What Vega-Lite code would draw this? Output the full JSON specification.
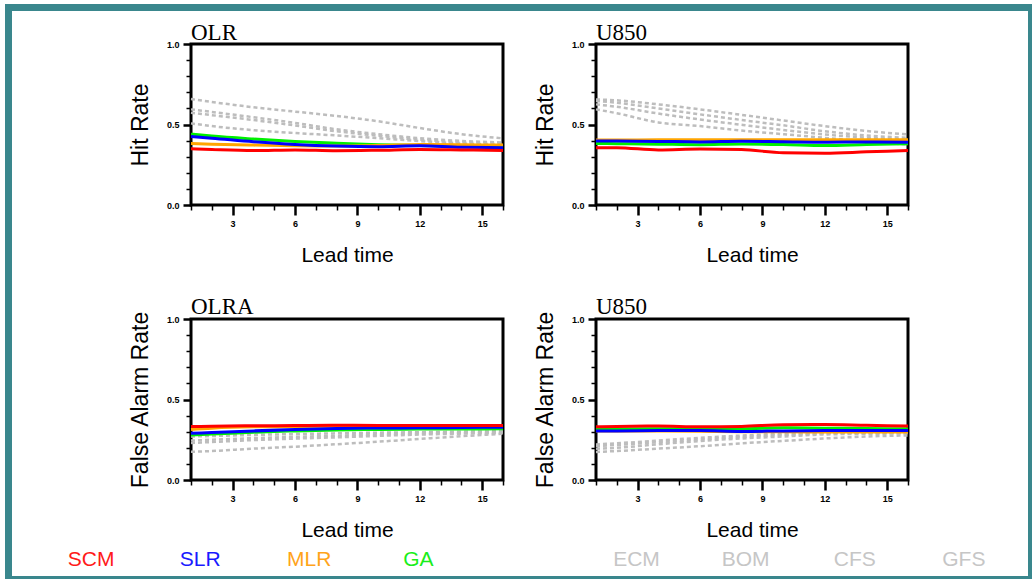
{
  "$schema": "https://vega.github.io/schema/vega-lite/v6.json",
  "padding": {"left": 5, "top": 4, "right": 0, "bottom": 0},
  "background": "white",
  "spacing": 0,
  "datasets": {
    "rates": [
      {"p":"p1","s":"ECM","lead":1,"rate":0.658},{"p":"p1","s":"ECM","lead":2,"rate":0.64},{"p":"p1","s":"ECM","lead":4,"rate":0.607},{"p":"p1","s":"ECM","lead":6,"rate":0.58},{"p":"p1","s":"ECM","lead":8,"rate":0.553},{"p":"p1","s":"ECM","lead":10,"rate":0.52},{"p":"p1","s":"ECM","lead":12,"rate":0.478},{"p":"p1","s":"ECM","lead":14,"rate":0.44},{"p":"p1","s":"ECM","lead":16,"rate":0.414},
      {"p":"p1","s":"BOM","lead":1,"rate":0.594},{"p":"p1","s":"BOM","lead":2,"rate":0.578},{"p":"p1","s":"BOM","lead":4,"rate":0.545},{"p":"p1","s":"BOM","lead":6,"rate":0.51},{"p":"p1","s":"BOM","lead":8,"rate":0.47},{"p":"p1","s":"BOM","lead":10,"rate":0.44},{"p":"p1","s":"BOM","lead":12,"rate":0.415},{"p":"p1","s":"BOM","lead":14,"rate":0.398},{"p":"p1","s":"BOM","lead":16,"rate":0.388},
      {"p":"p1","s":"CFS","lead":1,"rate":0.573},{"p":"p1","s":"CFS","lead":2,"rate":0.558},{"p":"p1","s":"CFS","lead":4,"rate":0.528},{"p":"p1","s":"CFS","lead":6,"rate":0.494},{"p":"p1","s":"CFS","lead":8,"rate":0.458},{"p":"p1","s":"CFS","lead":10,"rate":0.43},{"p":"p1","s":"CFS","lead":12,"rate":0.405},{"p":"p1","s":"CFS","lead":14,"rate":0.39},{"p":"p1","s":"CFS","lead":16,"rate":0.38},
      {"p":"p1","s":"GFS","lead":1,"rate":0.507},{"p":"p1","s":"GFS","lead":2,"rate":0.49},{"p":"p1","s":"GFS","lead":4,"rate":0.465},{"p":"p1","s":"GFS","lead":6,"rate":0.447},{"p":"p1","s":"GFS","lead":8,"rate":0.432},{"p":"p1","s":"GFS","lead":10,"rate":0.415},{"p":"p1","s":"GFS","lead":12,"rate":0.397},{"p":"p1","s":"GFS","lead":14,"rate":0.382},{"p":"p1","s":"GFS","lead":16,"rate":0.372},
      {"p":"p1","s":"GA","lead":1,"rate":0.44},{"p":"p1","s":"GA","lead":2,"rate":0.428},{"p":"p1","s":"GA","lead":4,"rate":0.41},{"p":"p1","s":"GA","lead":6,"rate":0.395},{"p":"p1","s":"GA","lead":8,"rate":0.384},{"p":"p1","s":"GA","lead":10,"rate":0.375},{"p":"p1","s":"GA","lead":12,"rate":0.37},{"p":"p1","s":"GA","lead":14,"rate":0.366},{"p":"p1","s":"GA","lead":16,"rate":0.362},
      {"p":"p1","s":"MLR","lead":1,"rate":0.382},{"p":"p1","s":"MLR","lead":2,"rate":0.378},{"p":"p1","s":"MLR","lead":4,"rate":0.372},{"p":"p1","s":"MLR","lead":6,"rate":0.368},{"p":"p1","s":"MLR","lead":8,"rate":0.367},{"p":"p1","s":"MLR","lead":10,"rate":0.37},{"p":"p1","s":"MLR","lead":12,"rate":0.376},{"p":"p1","s":"MLR","lead":14,"rate":0.374},{"p":"p1","s":"MLR","lead":16,"rate":0.372},
      {"p":"p1","s":"SLR","lead":1,"rate":0.425},{"p":"p1","s":"SLR","lead":2,"rate":0.415},{"p":"p1","s":"SLR","lead":4,"rate":0.393},{"p":"p1","s":"SLR","lead":6,"rate":0.376},{"p":"p1","s":"SLR","lead":8,"rate":0.366},{"p":"p1","s":"SLR","lead":10,"rate":0.362},{"p":"p1","s":"SLR","lead":12,"rate":0.368},{"p":"p1","s":"SLR","lead":14,"rate":0.358},{"p":"p1","s":"SLR","lead":16,"rate":0.356},
      {"p":"p1","s":"SCM","lead":1,"rate":0.35},{"p":"p1","s":"SCM","lead":2,"rate":0.345},{"p":"p1","s":"SCM","lead":4,"rate":0.338},{"p":"p1","s":"SCM","lead":6,"rate":0.342},{"p":"p1","s":"SCM","lead":8,"rate":0.337},{"p":"p1","s":"SCM","lead":10,"rate":0.34},{"p":"p1","s":"SCM","lead":12,"rate":0.345},{"p":"p1","s":"SCM","lead":14,"rate":0.342},{"p":"p1","s":"SCM","lead":16,"rate":0.338},

      {"p":"p2","s":"ECM","lead":1,"rate":0.656},{"p":"p2","s":"ECM","lead":2,"rate":0.65},{"p":"p2","s":"ECM","lead":4,"rate":0.625},{"p":"p2","s":"ECM","lead":6,"rate":0.594},{"p":"p2","s":"ECM","lead":8,"rate":0.56},{"p":"p2","s":"ECM","lead":10,"rate":0.525},{"p":"p2","s":"ECM","lead":12,"rate":0.49},{"p":"p2","s":"ECM","lead":14,"rate":0.46},{"p":"p2","s":"ECM","lead":16,"rate":0.438},
      {"p":"p2","s":"BOM","lead":1,"rate":0.646},{"p":"p2","s":"BOM","lead":2,"rate":0.635},{"p":"p2","s":"BOM","lead":4,"rate":0.6},{"p":"p2","s":"BOM","lead":6,"rate":0.563},{"p":"p2","s":"BOM","lead":8,"rate":0.528},{"p":"p2","s":"BOM","lead":10,"rate":0.495},{"p":"p2","s":"BOM","lead":12,"rate":0.458},{"p":"p2","s":"BOM","lead":14,"rate":0.432},{"p":"p2","s":"BOM","lead":16,"rate":0.417},
      {"p":"p2","s":"CFS","lead":1,"rate":0.625},{"p":"p2","s":"CFS","lead":2,"rate":0.61},{"p":"p2","s":"CFS","lead":4,"rate":0.568},{"p":"p2","s":"CFS","lead":6,"rate":0.531},{"p":"p2","s":"CFS","lead":8,"rate":0.498},{"p":"p2","s":"CFS","lead":10,"rate":0.466},{"p":"p2","s":"CFS","lead":12,"rate":0.438},{"p":"p2","s":"CFS","lead":14,"rate":0.418},{"p":"p2","s":"CFS","lead":16,"rate":0.406},
      {"p":"p2","s":"GFS","lead":1,"rate":0.594},{"p":"p2","s":"GFS","lead":2,"rate":0.57},{"p":"p2","s":"GFS","lead":4,"rate":0.513},{"p":"p2","s":"GFS","lead":6,"rate":0.49},{"p":"p2","s":"GFS","lead":8,"rate":0.462},{"p":"p2","s":"GFS","lead":10,"rate":0.44},{"p":"p2","s":"GFS","lead":12,"rate":0.417},{"p":"p2","s":"GFS","lead":14,"rate":0.395},{"p":"p2","s":"GFS","lead":16,"rate":0.375},
      {"p":"p2","s":"GA","lead":1,"rate":0.382},{"p":"p2","s":"GA","lead":2,"rate":0.381},{"p":"p2","s":"GA","lead":4,"rate":0.378},{"p":"p2","s":"GA","lead":6,"rate":0.375},{"p":"p2","s":"GA","lead":8,"rate":0.379},{"p":"p2","s":"GA","lead":10,"rate":0.376},{"p":"p2","s":"GA","lead":12,"rate":0.37},{"p":"p2","s":"GA","lead":14,"rate":0.376},{"p":"p2","s":"GA","lead":16,"rate":0.381},
      {"p":"p2","s":"MLR","lead":1,"rate":0.404},{"p":"p2","s":"MLR","lead":2,"rate":0.404},{"p":"p2","s":"MLR","lead":4,"rate":0.405},{"p":"p2","s":"MLR","lead":6,"rate":0.405},{"p":"p2","s":"MLR","lead":8,"rate":0.406},{"p":"p2","s":"MLR","lead":10,"rate":0.406},{"p":"p2","s":"MLR","lead":12,"rate":0.406},{"p":"p2","s":"MLR","lead":14,"rate":0.406},{"p":"p2","s":"MLR","lead":16,"rate":0.406},
      {"p":"p2","s":"SLR","lead":1,"rate":0.398},{"p":"p2","s":"SLR","lead":2,"rate":0.397},{"p":"p2","s":"SLR","lead":4,"rate":0.395},{"p":"p2","s":"SLR","lead":6,"rate":0.392},{"p":"p2","s":"SLR","lead":8,"rate":0.396},{"p":"p2","s":"SLR","lead":10,"rate":0.393},{"p":"p2","s":"SLR","lead":12,"rate":0.39},{"p":"p2","s":"SLR","lead":14,"rate":0.392},{"p":"p2","s":"SLR","lead":16,"rate":0.39},
      {"p":"p2","s":"SCM","lead":1,"rate":0.356},{"p":"p2","s":"SCM","lead":2,"rate":0.356},{"p":"p2","s":"SCM","lead":4,"rate":0.342},{"p":"p2","s":"SCM","lead":6,"rate":0.348},{"p":"p2","s":"SCM","lead":8,"rate":0.344},{"p":"p2","s":"SCM","lead":10,"rate":0.325},{"p":"p2","s":"SCM","lead":12,"rate":0.322},{"p":"p2","s":"SCM","lead":14,"rate":0.33},{"p":"p2","s":"SCM","lead":16,"rate":0.338},

      {"p":"p3","s":"ECM","lead":1,"rate":0.27},{"p":"p3","s":"ECM","lead":2,"rate":0.273},{"p":"p3","s":"ECM","lead":4,"rate":0.28},{"p":"p3","s":"ECM","lead":6,"rate":0.285},{"p":"p3","s":"ECM","lead":8,"rate":0.29},{"p":"p3","s":"ECM","lead":10,"rate":0.294},{"p":"p3","s":"ECM","lead":12,"rate":0.297},{"p":"p3","s":"ECM","lead":14,"rate":0.3},{"p":"p3","s":"ECM","lead":16,"rate":0.303},
      {"p":"p3","s":"BOM","lead":1,"rate":0.245},{"p":"p3","s":"BOM","lead":2,"rate":0.25},{"p":"p3","s":"BOM","lead":4,"rate":0.26},{"p":"p3","s":"BOM","lead":6,"rate":0.268},{"p":"p3","s":"BOM","lead":8,"rate":0.275},{"p":"p3","s":"BOM","lead":10,"rate":0.283},{"p":"p3","s":"BOM","lead":12,"rate":0.29},{"p":"p3","s":"BOM","lead":14,"rate":0.294},{"p":"p3","s":"BOM","lead":16,"rate":0.298},
      {"p":"p3","s":"CFS","lead":1,"rate":0.23},{"p":"p3","s":"CFS","lead":2,"rate":0.236},{"p":"p3","s":"CFS","lead":4,"rate":0.248},{"p":"p3","s":"CFS","lead":6,"rate":0.257},{"p":"p3","s":"CFS","lead":8,"rate":0.265},{"p":"p3","s":"CFS","lead":10,"rate":0.274},{"p":"p3","s":"CFS","lead":12,"rate":0.282},{"p":"p3","s":"CFS","lead":14,"rate":0.288},{"p":"p3","s":"CFS","lead":16,"rate":0.293},
      {"p":"p3","s":"GFS","lead":1,"rate":0.175},{"p":"p3","s":"GFS","lead":2,"rate":0.18},{"p":"p3","s":"GFS","lead":4,"rate":0.195},{"p":"p3","s":"GFS","lead":6,"rate":0.207},{"p":"p3","s":"GFS","lead":8,"rate":0.222},{"p":"p3","s":"GFS","lead":10,"rate":0.238},{"p":"p3","s":"GFS","lead":12,"rate":0.255},{"p":"p3","s":"GFS","lead":14,"rate":0.272},{"p":"p3","s":"GFS","lead":16,"rate":0.287},
      {"p":"p3","s":"GA","lead":1,"rate":0.28},{"p":"p3","s":"GA","lead":2,"rate":0.285},{"p":"p3","s":"GA","lead":4,"rate":0.297},{"p":"p3","s":"GA","lead":6,"rate":0.305},{"p":"p3","s":"GA","lead":8,"rate":0.311},{"p":"p3","s":"GA","lead":10,"rate":0.314},{"p":"p3","s":"GA","lead":12,"rate":0.316},{"p":"p3","s":"GA","lead":14,"rate":0.317},{"p":"p3","s":"GA","lead":16,"rate":0.318},
      {"p":"p3","s":"MLR","lead":1,"rate":0.314},{"p":"p3","s":"MLR","lead":2,"rate":0.322},{"p":"p3","s":"MLR","lead":4,"rate":0.33},{"p":"p3","s":"MLR","lead":6,"rate":0.332},{"p":"p3","s":"MLR","lead":8,"rate":0.334},{"p":"p3","s":"MLR","lead":10,"rate":0.334},{"p":"p3","s":"MLR","lead":12,"rate":0.333},{"p":"p3","s":"MLR","lead":14,"rate":0.333},{"p":"p3","s":"MLR","lead":16,"rate":0.333},
      {"p":"p3","s":"SLR","lead":1,"rate":0.29},{"p":"p3","s":"SLR","lead":2,"rate":0.295},{"p":"p3","s":"SLR","lead":4,"rate":0.305},{"p":"p3","s":"SLR","lead":6,"rate":0.314},{"p":"p3","s":"SLR","lead":8,"rate":0.32},{"p":"p3","s":"SLR","lead":10,"rate":0.323},{"p":"p3","s":"SLR","lead":12,"rate":0.324},{"p":"p3","s":"SLR","lead":14,"rate":0.326},{"p":"p3","s":"SLR","lead":16,"rate":0.328},
      {"p":"p3","s":"SCM","lead":1,"rate":0.332},{"p":"p3","s":"SCM","lead":2,"rate":0.334},{"p":"p3","s":"SCM","lead":4,"rate":0.337},{"p":"p3","s":"SCM","lead":6,"rate":0.338},{"p":"p3","s":"SCM","lead":8,"rate":0.34},{"p":"p3","s":"SCM","lead":10,"rate":0.339},{"p":"p3","s":"SCM","lead":12,"rate":0.338},{"p":"p3","s":"SCM","lead":14,"rate":0.338},{"p":"p3","s":"SCM","lead":16,"rate":0.338},

      {"p":"p4","s":"ECM","lead":1,"rate":0.221},{"p":"p4","s":"ECM","lead":2,"rate":0.228},{"p":"p4","s":"ECM","lead":4,"rate":0.245},{"p":"p4","s":"ECM","lead":6,"rate":0.262},{"p":"p4","s":"ECM","lead":8,"rate":0.276},{"p":"p4","s":"ECM","lead":10,"rate":0.287},{"p":"p4","s":"ECM","lead":12,"rate":0.293},{"p":"p4","s":"ECM","lead":14,"rate":0.296},{"p":"p4","s":"ECM","lead":16,"rate":0.298},
      {"p":"p4","s":"BOM","lead":1,"rate":0.211},{"p":"p4","s":"BOM","lead":2,"rate":0.218},{"p":"p4","s":"BOM","lead":4,"rate":0.235},{"p":"p4","s":"BOM","lead":6,"rate":0.252},{"p":"p4","s":"BOM","lead":8,"rate":0.267},{"p":"p4","s":"BOM","lead":10,"rate":0.28},{"p":"p4","s":"BOM","lead":12,"rate":0.289},{"p":"p4","s":"BOM","lead":14,"rate":0.292},{"p":"p4","s":"BOM","lead":16,"rate":0.293},
      {"p":"p4","s":"CFS","lead":1,"rate":0.194},{"p":"p4","s":"CFS","lead":2,"rate":0.2},{"p":"p4","s":"CFS","lead":4,"rate":0.222},{"p":"p4","s":"CFS","lead":6,"rate":0.242},{"p":"p4","s":"CFS","lead":8,"rate":0.258},{"p":"p4","s":"CFS","lead":10,"rate":0.27},{"p":"p4","s":"CFS","lead":12,"rate":0.283},{"p":"p4","s":"CFS","lead":14,"rate":0.287},{"p":"p4","s":"CFS","lead":16,"rate":0.289},
      {"p":"p4","s":"GFS","lead":1,"rate":0.174},{"p":"p4","s":"GFS","lead":2,"rate":0.18},{"p":"p4","s":"GFS","lead":4,"rate":0.195},{"p":"p4","s":"GFS","lead":6,"rate":0.21},{"p":"p4","s":"GFS","lead":8,"rate":0.228},{"p":"p4","s":"GFS","lead":10,"rate":0.243},{"p":"p4","s":"GFS","lead":12,"rate":0.258},{"p":"p4","s":"GFS","lead":14,"rate":0.27},{"p":"p4","s":"GFS","lead":16,"rate":0.277},
      {"p":"p4","s":"MLR","lead":1,"rate":0.305},{"p":"p4","s":"MLR","lead":2,"rate":0.305},{"p":"p4","s":"MLR","lead":4,"rate":0.305},{"p":"p4","s":"MLR","lead":6,"rate":0.303},{"p":"p4","s":"MLR","lead":8,"rate":0.3},{"p":"p4","s":"MLR","lead":10,"rate":0.299},{"p":"p4","s":"MLR","lead":12,"rate":0.298},{"p":"p4","s":"MLR","lead":14,"rate":0.298},{"p":"p4","s":"MLR","lead":16,"rate":0.298},
      {"p":"p4","s":"GA","lead":1,"rate":0.315},{"p":"p4","s":"GA","lead":2,"rate":0.316},{"p":"p4","s":"GA","lead":4,"rate":0.318},{"p":"p4","s":"GA","lead":6,"rate":0.318},{"p":"p4","s":"GA","lead":8,"rate":0.318},{"p":"p4","s":"GA","lead":10,"rate":0.324},{"p":"p4","s":"GA","lead":12,"rate":0.322},{"p":"p4","s":"GA","lead":14,"rate":0.32},{"p":"p4","s":"GA","lead":16,"rate":0.318},
      {"p":"p4","s":"SLR","lead":1,"rate":0.304},{"p":"p4","s":"SLR","lead":2,"rate":0.305},{"p":"p4","s":"SLR","lead":4,"rate":0.307},{"p":"p4","s":"SLR","lead":6,"rate":0.308},{"p":"p4","s":"SLR","lead":8,"rate":0.302},{"p":"p4","s":"SLR","lead":10,"rate":0.305},{"p":"p4","s":"SLR","lead":12,"rate":0.307},{"p":"p4","s":"SLR","lead":14,"rate":0.308},{"p":"p4","s":"SLR","lead":16,"rate":0.308},
      {"p":"p4","s":"SCM","lead":1,"rate":0.33},{"p":"p4","s":"SCM","lead":2,"rate":0.333},{"p":"p4","s":"SCM","lead":4,"rate":0.335},{"p":"p4","s":"SCM","lead":6,"rate":0.33},{"p":"p4","s":"SCM","lead":8,"rate":0.333},{"p":"p4","s":"SCM","lead":10,"rate":0.343},{"p":"p4","s":"SCM","lead":12,"rate":0.345},{"p":"p4","s":"SCM","lead":14,"rate":0.34},{"p":"p4","s":"SCM","lead":16,"rate":0.335}
    ]
  },
  "config": {
    "view": {"stroke": "black", "strokeWidth": 3},
    "axis": {"domain": false, "grid": false, "tickColor": "black", "labelFont": "Liberation Sans", "labelFontWeight": "bold", "labelFontSize": 9, "labelColor": "black", "titleFont": "Liberation Sans", "titleFontWeight": "normal", "titleColor": "black", "labelOverlap": false, "labelFlush": false},
    "axisX": {"titleFontSize": 21, "labelPadding": 4, "titlePadding": 16},
    "axisY": {"titleFontSize": 23, "labelPadding": 4, "titlePadding": 14},
    "title": {"font": "Liberation Serif", "fontSize": 23, "fontWeight": "normal", "anchor": "start", "frame": "group", "baseline": "alphabetic", "color": "black"}
  },
  "hconcat": [
    {"width": 7, "height": 575, "view": {"fill": "#3a878d", "stroke": null}, "data": {"values": []}, "mark": "point", "encoding": {}},
    {
      "spacing": 9,
      "vconcat": [
        {"width": 1016, "height": 7, "view": {"fill": "#3a878d", "stroke": null}, "data": {"values": []}, "mark": "point", "encoding": {}},
        {
          "spacing": 4,
          "vconcat": [
            {
              "spacing": 27,
              "vconcat": [
                {
                  "spacing": 0,
                  "hconcat": [
                    {"width": 115, "height": 1, "view": {"stroke": null}, "data": {"values": []}, "mark": "point", "encoding": {}},
                    {
                      "spacing": 21,
                      "hconcat": [
                        {
                          "width": 312, "height": 161, "title": {"text": "OLR", "offset": -5},
                          "data": {"name": "rates"},
                          "transform": [{"filter": "datum.p === 'p1'"}],
                          "encoding": {
                            "x": {"field": "lead", "type": "quantitative", "scale": {"domain": [1, 16], "nice": false, "zero": false},
                              "axis": {"title": "Lead time", "values": [1,2,3,4,5,6,7,8,9,10,11,12,13,14,15,16], "labelExpr": "datum.value % 3 === 0 ? datum.label : ''", "tickSize": {"condition": {"test": "datum.value % 3 === 0", "value": 10}, "value": 5}, "tickWidth": {"condition": {"test": "datum.value % 3 === 0", "value": 2.5}, "value": 1.5}}},
                            "y": {"field": "rate", "type": "quantitative", "scale": {"domain": [0, 1], "nice": false},
                              "axis": {"title": "Hit Rate", "values": [0,0.1,0.2,0.3,0.4,0.5,0.6,0.7,0.8,0.9,1], "labelExpr": "(datum.value === 0 || datum.value === 0.5 || datum.value === 1) ? format(datum.value, '.1f') : ''", "tickSize": {"condition": {"test": "datum.value === 0 || datum.value === 0.5 || datum.value === 1", "value": 8}, "value": 5}, "tickWidth": {"condition": {"test": "datum.value === 0 || datum.value === 0.5 || datum.value === 1", "value": 2.5}, "value": 1.5}}},
                            "color": {"field": "s", "type": "nominal", "scale": {"domain": ["SCM","SLR","MLR","GA","ECM","BOM","CFS","GFS"], "range": ["#ff0000","#0000ff","#ffa500","#00f000","#bdbdbd","#bdbdbd","#bdbdbd","#bdbdbd"]}, "legend": null}
                          },
                          "layer": [
                            {"transform": [{"filter": "indexof(['ECM','BOM','CFS','GFS'], datum.s) >= 0"}], "mark": {"type": "line", "strokeWidth": 2.5, "strokeDash": [4, 3], "interpolate": "monotone"}},
                            {"transform": [{"filter": "indexof(['ECM','BOM','CFS','GFS'], datum.s) < 0"}], "mark": {"type": "line", "strokeWidth": 3, "interpolate": "monotone"}}
                          ]
                        },
                        {
                          "width": 312, "height": 161, "title": {"text": "U850", "offset": -5},
                          "data": {"name": "rates"},
                          "transform": [{"filter": "datum.p === 'p2'"}],
                          "encoding": {
                            "x": {"field": "lead", "type": "quantitative", "scale": {"domain": [1, 16], "nice": false, "zero": false},
                              "axis": {"title": "Lead time", "values": [1,2,3,4,5,6,7,8,9,10,11,12,13,14,15,16], "labelExpr": "datum.value % 3 === 0 ? datum.label : ''", "tickSize": {"condition": {"test": "datum.value % 3 === 0", "value": 10}, "value": 5}, "tickWidth": {"condition": {"test": "datum.value % 3 === 0", "value": 2.5}, "value": 1.5}}},
                            "y": {"field": "rate", "type": "quantitative", "scale": {"domain": [0, 1], "nice": false},
                              "axis": {"title": "Hit Rate", "values": [0,0.1,0.2,0.3,0.4,0.5,0.6,0.7,0.8,0.9,1], "labelExpr": "(datum.value === 0 || datum.value === 0.5 || datum.value === 1) ? format(datum.value, '.1f') : ''", "tickSize": {"condition": {"test": "datum.value === 0 || datum.value === 0.5 || datum.value === 1", "value": 8}, "value": 5}, "tickWidth": {"condition": {"test": "datum.value === 0 || datum.value === 0.5 || datum.value === 1", "value": 2.5}, "value": 1.5}}},
                            "color": {"field": "s", "type": "nominal", "scale": {"domain": ["SCM","SLR","MLR","GA","ECM","BOM","CFS","GFS"], "range": ["#ff0000","#0000ff","#ffa500","#00f000","#bdbdbd","#bdbdbd","#bdbdbd","#bdbdbd"]}, "legend": null}
                          },
                          "layer": [
                            {"transform": [{"filter": "indexof(['ECM','BOM','CFS','GFS'], datum.s) >= 0"}], "mark": {"type": "line", "strokeWidth": 2.5, "strokeDash": [4, 3], "interpolate": "monotone"}},
                            {"transform": [{"filter": "indexof(['ECM','BOM','CFS','GFS'], datum.s) < 0"}], "mark": {"type": "line", "strokeWidth": 3, "interpolate": "monotone"}}
                          ]
                        }
                      ]
                    }
                  ]
                },
                {
                  "spacing": 6,
                  "vconcat": [
                    {
                      "spacing": 0,
                      "hconcat": [
                        {"width": 115, "height": 1, "view": {"stroke": null}, "data": {"values": []}, "mark": "point", "encoding": {}},
                        {
                          "spacing": 21,
                          "hconcat": [
                            {
                              "width": 312, "height": 161, "title": {"text": "OLRA", "offset": -8},
                              "data": {"name": "rates"},
                              "transform": [{"filter": "datum.p === 'p3'"}],
                              "encoding": {
                                "x": {"field": "lead", "type": "quantitative", "scale": {"domain": [1, 16], "nice": false, "zero": false},
                                  "axis": {"title": "Lead time", "values": [1,2,3,4,5,6,7,8,9,10,11,12,13,14,15,16], "labelExpr": "datum.value % 3 === 0 ? datum.label : ''", "tickSize": {"condition": {"test": "datum.value % 3 === 0", "value": 10}, "value": 5}, "tickWidth": {"condition": {"test": "datum.value % 3 === 0", "value": 2.5}, "value": 1.5}}},
                                "y": {"field": "rate", "type": "quantitative", "scale": {"domain": [0, 1], "nice": false},
                                  "axis": {"title": "False Alarm Rate", "values": [0,0.1,0.2,0.3,0.4,0.5,0.6,0.7,0.8,0.9,1], "labelExpr": "(datum.value === 0 || datum.value === 0.5 || datum.value === 1) ? format(datum.value, '.1f') : ''", "tickSize": {"condition": {"test": "datum.value === 0 || datum.value === 0.5 || datum.value === 1", "value": 8}, "value": 5}, "tickWidth": {"condition": {"test": "datum.value === 0 || datum.value === 0.5 || datum.value === 1", "value": 2.5}, "value": 1.5}}},
                                "color": {"field": "s", "type": "nominal", "scale": {"domain": ["SCM","SLR","MLR","GA","ECM","BOM","CFS","GFS"], "range": ["#ff0000","#0000ff","#ffa500","#00f000","#bdbdbd","#bdbdbd","#bdbdbd","#bdbdbd"]}, "legend": null}
                              },
                              "layer": [
                                {"transform": [{"filter": "indexof(['ECM','BOM','CFS','GFS'], datum.s) >= 0"}], "mark": {"type": "line", "strokeWidth": 2.5, "strokeDash": [4, 3], "interpolate": "monotone"}},
                                {"transform": [{"filter": "indexof(['ECM','BOM','CFS','GFS'], datum.s) < 0"}], "mark": {"type": "line", "strokeWidth": 3, "interpolate": "monotone"}}
                              ]
                            },
                            {
                              "width": 312, "height": 161, "title": {"text": "U850", "offset": -8},
                              "data": {"name": "rates"},
                              "transform": [{"filter": "datum.p === 'p4'"}],
                              "encoding": {
                                "x": {"field": "lead", "type": "quantitative", "scale": {"domain": [1, 16], "nice": false, "zero": false},
                                  "axis": {"title": "Lead time", "values": [1,2,3,4,5,6,7,8,9,10,11,12,13,14,15,16], "labelExpr": "datum.value % 3 === 0 ? datum.label : ''", "tickSize": {"condition": {"test": "datum.value % 3 === 0", "value": 10}, "value": 5}, "tickWidth": {"condition": {"test": "datum.value % 3 === 0", "value": 2.5}, "value": 1.5}}},
                                "y": {"field": "rate", "type": "quantitative", "scale": {"domain": [0, 1], "nice": false},
                                  "axis": {"title": "False Alarm Rate", "values": [0,0.1,0.2,0.3,0.4,0.5,0.6,0.7,0.8,0.9,1], "labelExpr": "(datum.value === 0 || datum.value === 0.5 || datum.value === 1) ? format(datum.value, '.1f') : ''", "tickSize": {"condition": {"test": "datum.value === 0 || datum.value === 0.5 || datum.value === 1", "value": 8}, "value": 5}, "tickWidth": {"condition": {"test": "datum.value === 0 || datum.value === 0.5 || datum.value === 1", "value": 2.5}, "value": 1.5}}},
                                "color": {"field": "s", "type": "nominal", "scale": {"domain": ["SCM","SLR","MLR","GA","ECM","BOM","CFS","GFS"], "range": ["#ff0000","#0000ff","#ffa500","#00f000","#bdbdbd","#bdbdbd","#bdbdbd","#bdbdbd"]}, "legend": null}
                              },
                              "layer": [
                                {"transform": [{"filter": "indexof(['ECM','BOM','CFS','GFS'], datum.s) >= 0"}], "mark": {"type": "line", "strokeWidth": 2.5, "strokeDash": [4, 3], "interpolate": "monotone"}},
                                {"transform": [{"filter": "indexof(['ECM','BOM','CFS','GFS'], datum.s) < 0"}], "mark": {"type": "line", "strokeWidth": 3, "interpolate": "monotone"}}
                              ]
                            }
                          ]
                        }
                      ]
                    },
                    {
                      "width": 1010, "height": 24,
                      "view": {"stroke": null},
                      "data": {"values": [{"name": "SCM"}, {"name": "SLR"}, {"name": "MLR"}, {"name": "GA"}, {"name": "ECM"}, {"name": "BOM"}, {"name": "CFS"}, {"name": "GFS"}]},
                      "mark": {"type": "text", "font": "Liberation Sans", "fontSize": 21, "baseline": "middle"},
                      "encoding": {
                        "x": {"field": "name", "type": "nominal", "scale": {"type": "point", "domain": ["SCM","SLR","MLR","GA"," ","ECM","BOM","CFS","GFS"], "padding": 0.629, "align": 0.576}, "axis": null},
                        "text": {"field": "name"},
                        "fill": {"field": "name", "type": "nominal", "scale": {"domain": ["SCM","SLR","MLR","GA","ECM","BOM","CFS","GFS"], "range": ["#ff1a1a","#1a1aff","#ffa41a","#1aee1a","#c6c6c6","#c6c6c6","#c6c6c6","#c6c6c6"]}, "legend": null}
                      }
                    }
                  ]
                }
              ]
            },
            {"width": 1016, "height": 3, "view": {"fill": "#3a878d", "stroke": null}, "data": {"values": []}, "mark": "point", "encoding": {}}
          ]
        }
      ]
    },
    {"width": 4, "height": 575, "view": {"fill": "#3a878d", "stroke": null}, "data": {"values": []}, "mark": "point", "encoding": {}}
  ]
}
